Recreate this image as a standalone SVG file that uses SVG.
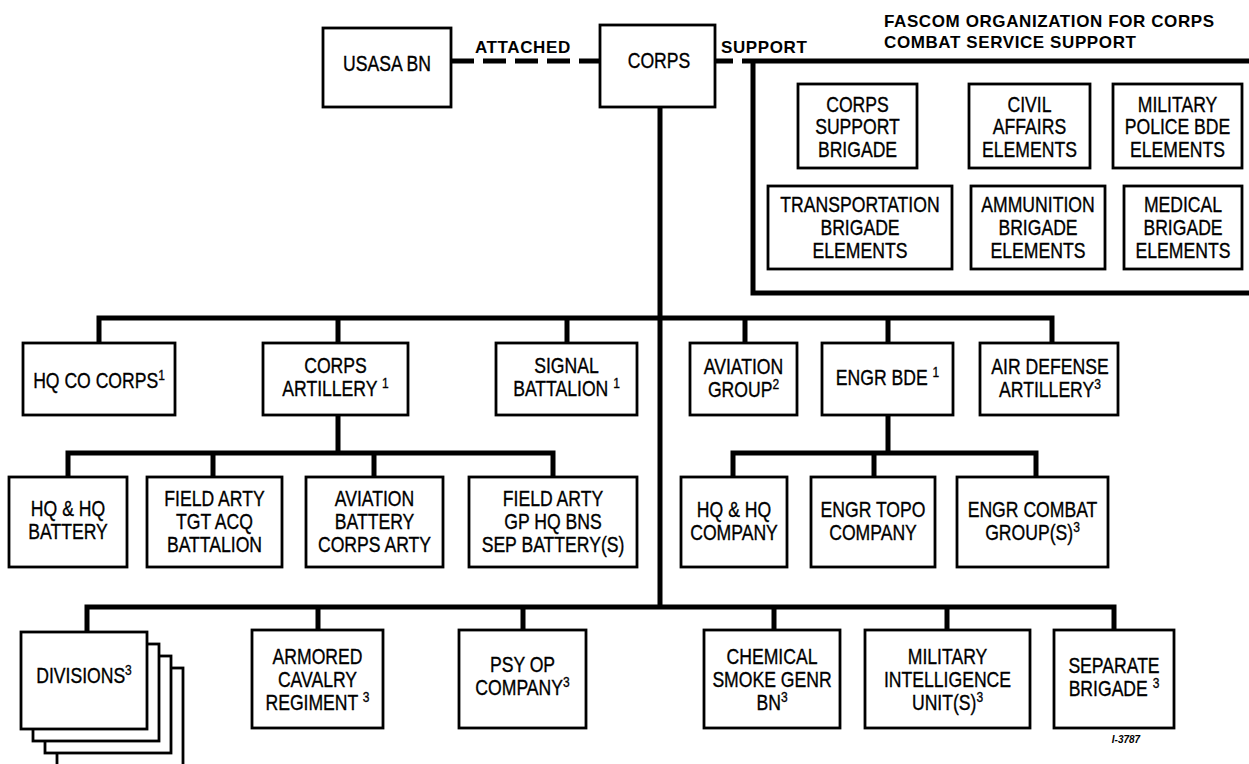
<svg xmlns="http://www.w3.org/2000/svg" width="1249" height="764" viewBox="0 0 1249 764">
<style>
.box{fill:#fff;stroke:#000;stroke-width:2.8}
.ln{fill:none;stroke:#000;stroke-width:5}
.t{font-family:"Liberation Sans",Arial,sans-serif;font-size:22px;text-anchor:middle;fill:#000;stroke:#000;stroke-width:0.35}
.s{font-size:15px}
.b{font-family:"Liberation Sans",Arial,sans-serif;font-weight:bold;font-size:17px;letter-spacing:0.6px;fill:#000}
</style>
<rect width="1249" height="764" fill="#fff"/>
<g id="connectors">
  <line class="ln" x1="451" y1="61" x2="600" y2="61" stroke-dasharray="23 9"/>
  <line class="ln" x1="715" y1="61" x2="742" y2="61" stroke-dasharray="18 9"/>
  <path class="ln" d="M742 61H1249M753 61V293H1249"/>
  <line class="ln" x1="660" y1="107" x2="660" y2="607"/>
  <path class="ln" d="M99 345V318H1052V345M338 318V343M567 318V343M745 318V343M888 318V343"/>
  <path class="ln" d="M338 415V453M68 479V453H553V477M213 453V477M374 453V477"/>
  <path class="ln" d="M888 415V453M733 479V453H1036V477M874 453V477"/>
  <path class="ln" d="M87 632V607H1114V630M318 607V630M523 607V630M774 607V630M947 607V630"/>
</g>
<g id="fascom-title">
  <text class="b" x="884" y="27">FASCOM ORGANIZATION FOR CORPS</text>
  <text class="b" x="884" y="48">COMBAT SERVICE SUPPORT</text>
</g>
<g id="label-attached"><text class="b" x="475" y="53">ATTACHED</text></g>
<g id="label-support"><text class="b" x="721" y="53">SUPPORT</text></g>
<g id="usasa-bn">
  <rect class="box" x="323" y="28" width="128" height="79"/>
  <text class="t" transform="translate(387 0) scale(.8 1)" y="71">USASA BN</text>
</g>
<g id="corps">
  <rect class="box" x="600" y="25" width="115" height="82"/>
  <text class="t" transform="translate(659 0) scale(.8 1)" y="68">CORPS</text>
</g>
<g id="corps-support-brigade">
  <rect class="box" x="798" y="84" width="119" height="84"/>
  <text class="t" transform="translate(857.5 0) scale(.8 1)"><tspan x="0" y="112">CORPS</tspan><tspan x="0" y="134.5">SUPPORT</tspan><tspan x="0" y="157">BRIGADE</tspan></text>
</g>
<g id="civil-affairs">
  <rect class="box" x="969" y="84" width="121" height="84"/>
  <text class="t" transform="translate(1029.5 0) scale(.8 1)"><tspan x="0" y="112">CIVIL</tspan><tspan x="0" y="134.5">AFFAIRS</tspan><tspan x="0" y="157">ELEMENTS</tspan></text>
</g>
<g id="military-police">
  <rect class="box" x="1113" y="84" width="129" height="84"/>
  <text class="t" transform="translate(1177.5 0) scale(.8 1)"><tspan x="0" y="112">MILITARY</tspan><tspan x="0" y="134.5">POLICE BDE</tspan><tspan x="0" y="157">ELEMENTS</tspan></text>
</g>
<g id="transportation">
  <rect class="box" x="768" y="186" width="184" height="83"/>
  <text class="t" transform="translate(860 0) scale(.8 1)"><tspan x="0" y="212">TRANSPORTATION</tspan><tspan x="0" y="235">BRIGADE</tspan><tspan x="0" y="258">ELEMENTS</tspan></text>
</g>
<g id="ammunition">
  <rect class="box" x="971" y="186" width="134" height="83"/>
  <text class="t" transform="translate(1038 0) scale(.8 1)"><tspan x="0" y="212">AMMUNITION</tspan><tspan x="0" y="235">BRIGADE</tspan><tspan x="0" y="258">ELEMENTS</tspan></text>
</g>
<g id="medical">
  <rect class="box" x="1124" y="186" width="118" height="83"/>
  <text class="t" transform="translate(1183 0) scale(.8 1)"><tspan x="0" y="212">MEDICAL</tspan><tspan x="0" y="235">BRIGADE</tspan><tspan x="0" y="258">ELEMENTS</tspan></text>
</g>
<g id="hq-co-corps">
  <rect class="box" x="23" y="343" width="152" height="72"/>
  <text class="t" transform="translate(99 0) scale(.8 1)" y="388">HQ CO CORPS<tspan class="s" dy="-8">1</tspan></text>
</g>
<g id="corps-artillery">
  <rect class="box" x="263" y="343" width="145" height="72"/>
  <text class="t" transform="translate(335.5 0) scale(.8 1)"><tspan x="0" y="373">CORPS</tspan><tspan x="0" y="396">ARTILLERY <tspan class="s" dy="-8">1</tspan></tspan></text>
</g>
<g id="signal-battalion">
  <rect class="box" x="496" y="343" width="141" height="72"/>
  <text class="t" transform="translate(566.5 0) scale(.8 1)"><tspan x="0" y="373">SIGNAL</tspan><tspan x="0" y="396">BATTALION <tspan class="s" dy="-8">1</tspan></tspan></text>
</g>
<g id="aviation-group">
  <rect class="box" x="690" y="343" width="107" height="72"/>
  <text class="t" transform="translate(743.5 0) scale(.8 1)"><tspan x="0" y="374">AVIATION</tspan><tspan x="0" y="397">GROUP<tspan class="s" dy="-8">2</tspan></tspan></text>
</g>
<g id="engr-bde">
  <rect class="box" x="822" y="343" width="131" height="72"/>
  <text class="t" transform="translate(887.5 0) scale(.8 1)" y="385">ENGR BDE <tspan class="s" dy="-8">1</tspan></text>
</g>
<g id="air-defense-artillery">
  <rect class="box" x="980" y="343" width="138" height="72"/>
  <text class="t" transform="translate(1050 0) scale(.8 1)"><tspan x="0" y="374">AIR DEFENSE</tspan><tspan x="0" y="397">ARTILLERY<tspan class="s" dy="-8">3</tspan></tspan></text>
</g>
<g id="hq-hq-battery">
  <rect class="box" x="9" y="477" width="118" height="90"/>
  <text class="t" transform="translate(68 0) scale(.8 1)"><tspan x="0" y="516">HQ &amp; HQ</tspan><tspan x="0" y="539">BATTERY</tspan></text>
</g>
<g id="field-arty-tgt-acq">
  <rect class="box" x="147" y="477" width="135" height="90"/>
  <text class="t" transform="translate(214.5 0) scale(.8 1)"><tspan x="0" y="506">FIELD ARTY</tspan><tspan x="0" y="529">TGT ACQ</tspan><tspan x="0" y="552">BATTALION</tspan></text>
</g>
<g id="aviation-battery">
  <rect class="box" x="306" y="477" width="137" height="90"/>
  <text class="t" transform="translate(374.5 0) scale(.8 1)"><tspan x="0" y="506">AVIATION</tspan><tspan x="0" y="529">BATTERY</tspan><tspan x="0" y="552">CORPS ARTY</tspan></text>
</g>
<g id="field-arty-gp">
  <rect class="box" x="469" y="477" width="168" height="90"/>
  <text class="t" transform="translate(553 0) scale(.8 1)"><tspan x="0" y="506">FIELD ARTY</tspan><tspan x="0" y="529">GP HQ BNS</tspan><tspan x="0" y="552">SEP BATTERY(S)</tspan></text>
</g>
<g id="hq-hq-company">
  <rect class="box" x="681" y="477" width="106" height="90"/>
  <text class="t" transform="translate(734 0) scale(.8 1)"><tspan x="0" y="517">HQ &amp; HQ</tspan><tspan x="0" y="540">COMPANY</tspan></text>
</g>
<g id="engr-topo-company">
  <rect class="box" x="811" y="477" width="124" height="90"/>
  <text class="t" transform="translate(873 0) scale(.8 1)"><tspan x="0" y="517">ENGR TOPO</tspan><tspan x="0" y="540">COMPANY</tspan></text>
</g>
<g id="engr-combat-group">
  <rect class="box" x="957" y="477" width="151" height="90"/>
  <text class="t" transform="translate(1032.5 0) scale(.8 1)"><tspan x="0" y="517">ENGR COMBAT</tspan><tspan x="0" y="540">GROUP(S)<tspan class="s" dy="-8">3</tspan></tspan></text>
</g>
<g id="divisions">
  <rect class="box" x="57" y="668" width="126" height="120"/>
  <rect class="box" x="45" y="656" width="126" height="97"/>
  <rect class="box" x="33" y="644" width="126" height="97"/>
  <rect class="box" x="21" y="632" width="126" height="97"/>
  <text class="t" transform="translate(84 0) scale(.8 1)" y="683">DIVISIONS<tspan class="s" dy="-8">3</tspan></text>
</g>
<g id="armored-cavalry-regiment">
  <rect class="box" x="252" y="630" width="131" height="98"/>
  <text class="t" transform="translate(317.5 0) scale(.8 1)"><tspan x="0" y="664">ARMORED</tspan><tspan x="0" y="687">CAVALRY</tspan><tspan x="0" y="710">REGIMENT <tspan class="s" dy="-8">3</tspan></tspan></text>
</g>
<g id="psy-op-company">
  <rect class="box" x="459" y="630" width="127" height="98"/>
  <text class="t" transform="translate(522.5 0) scale(.8 1)"><tspan x="0" y="672">PSY OP</tspan><tspan x="0" y="695">COMPANY<tspan class="s" dy="-8">3</tspan></tspan></text>
</g>
<g id="chemical-smoke">
  <rect class="box" x="704" y="630" width="136" height="98"/>
  <text class="t" transform="translate(772 0) scale(.8 1)"><tspan x="0" y="664">CHEMICAL</tspan><tspan x="0" y="687">SMOKE GENR</tspan><tspan x="0" y="710">BN<tspan class="s" dy="-8">3</tspan></tspan></text>
</g>
<g id="military-intelligence">
  <rect class="box" x="865" y="630" width="165" height="98"/>
  <text class="t" transform="translate(947.5 0) scale(.8 1)"><tspan x="0" y="664">MILITARY</tspan><tspan x="0" y="687">INTELLIGENCE</tspan><tspan x="0" y="710">UNIT(S)<tspan class="s" dy="-8">3</tspan></tspan></text>
</g>
<g id="separate-brigade">
  <rect class="box" x="1054" y="630" width="120" height="98"/>
  <text class="t" transform="translate(1114 0) scale(.8 1)"><tspan x="0" y="673">SEPARATE</tspan><tspan x="0" y="696">BRIGADE <tspan class="s" dy="-8">3</tspan></tspan></text>
</g>
<g id="figure-number">
  <text x="1126" y="743" font-family="Liberation Sans,Arial,sans-serif" font-size="10" font-weight="bold" font-style="italic" text-anchor="middle">I-3787</text>
</g>
</svg>
